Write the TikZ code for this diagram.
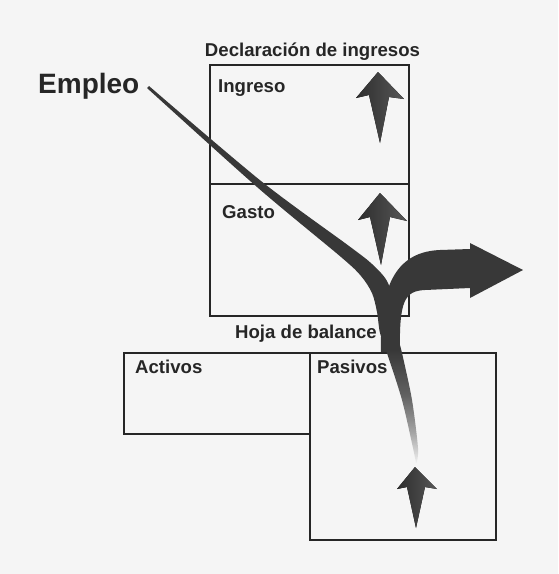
\documentclass[tikz,border=0pt]{standalone}
\usepackage{fontspec}
\setmainfont{Liberation Sans}
\begin{document}
\pgfdeclareverticalshading{bandfade}{100bp}{color(0bp)=(black!6); color(25bp)=(black!6); color(29bp)=(black!35); color(34bp)=(black!62); color(40bp)=(black!78); color(100bp)=(black!78)}
\begin{tikzpicture}[x=1pt,y=-1pt,
  box/.style={draw=black!85, line width=1.2pt, inner sep=0pt, outer sep=0pt},
  lbl/.style={inner sep=0pt, anchor=base west, font=\fontsize{18.6}{20}\selectfont\bfseries, text=black!85},
  uparrow/.style={left color=black!82, middle color=black!38, right color=black!66},
  darkshape/.style={fill=black!78}]
\useasboundingbox (0,0) rectangle (558,574);
\fill[black!4] (0,0) rectangle (558,574);

% boxes
\node[box, minimum width=199pt, minimum height=119pt] (ingreso) at (309.5,124.5) {};
\node[box, minimum width=199pt, minimum height=132pt] (gasto) at (309.5,250) {};
\node[box, minimum width=186pt, minimum height=81pt] (activos) at (217,393.5) {};
\node[box, minimum width=186pt, minimum height=187pt] (pasivos) at (403,446.5) {};

% labels
\node[lbl, anchor=base] (tdecl) at (312.5,56) {Declaración de ingresos};
\node[lbl] (tingreso) at (218,92) {Ingreso};
\node[lbl] (tgasto) at (222,218) {Gasto};
\node[lbl] (thoja) at (235,338) {Hoja de balance};
\node[lbl] (tactivos) at (135,373) {Activos};
\node[lbl] (tpasivos) at (317,373) {Pasivos};
\node[lbl, font=\fontsize{28}{30}\selectfont\bfseries] (templeo) at (38,93) {Empleo};

% small up arrows
\fill[uparrow] (378,72) -- (404,99) -- (389,97) -- (380,143) -- (369,95) -- (356,98) -- cycle;
\fill[uparrow] (380,193) -- (407,221) -- (390,217) -- (381,265) -- (370,217) -- (358,220) -- cycle;
\fill[uparrow] (415,467) -- (437,489) -- (425,487) -- (416,528) -- (407,487) -- (397,489) -- cycle;

% big curved arrow
\fill[darkshape] (381,352) .. controls (380,300) and (388,252) .. (440,250) -- (470,249) -- (470,243) -- (523,270) -- (470,298) -- (470,288) -- (425,290) .. controls (405,291) and (399,300) .. (400,352) -- cycle;

% tapered band from Empleo
\shade[shading=bandfade] plot[smooth, tension=0.5] coordinates {(147,88) (257,187) (341,257) (361,276) (372,293) (377,312) (380,333) (387,353) (402,400) (413,448) (416,463)}
  -- plot[smooth, tension=0.5] coordinates {(416.5,463) (418,448) (412,400) (402,353) (397,333) (394,304) (387,281) (372,264) (349,246) (261,181) (149,86)} -- cycle;
\end{tikzpicture}
\end{document}
